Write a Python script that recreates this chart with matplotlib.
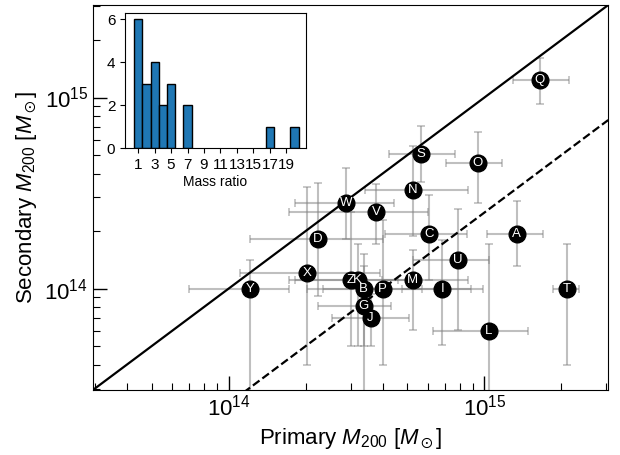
import numpy as np
import matplotlib
matplotlib.use("Agg")
import matplotlib.pyplot as plt

plt.rcParams['font.family'] = ['Liberation Sans', 'DejaVu Sans']
plt.rcParams['mathtext.fontset'] = 'custom'
plt.rcParams['mathtext.rm'] = 'Liberation Sans'
plt.rcParams['mathtext.it'] = 'Liberation Sans:italic'
plt.rcParams['mathtext.default'] = 'regular'

# masses in units of 1e14 Msun
labels = ['Q', 'S', 'O', 'N', 'W', 'V', 'D', 'C', 'A', 'U', 'X',
          'Z', 'K', 'B', 'P', 'M', 'I', 'T', 'L', 'Y', 'G', 'J']
m1     = [16.5, 5.67, 9.44, 5.26, 2.87, 3.78, 2.24, 6.08, 13.4, 7.89, 2.03,
          3.0, 3.2, 3.37, 4.0, 5.25, 6.84, 21.0, 10.4, 1.21, 3.37, 3.59]
m1_lo  = [12.9, 4.23, 7.11, 3.42, 1.82, 1.73, 1.21, 4.09, 10.2, 5.26, 1.11,
          1.73, 1.81, 2.03, 2.34, 3.97, 4.76, 18.6, 6.3, 0.70, 2.24, 2.54]
m1_hi  = [21.4, 7.67, 11.7, 8.63, 4.43, 6.0, 4.0, 8.57, 16.9, 10.4, 3.9,
          5.4, 4.6, 5.7, 8.9, 8.63, 9.9, 23.5, 14.8, 1.72, 4.3, 5.06]
m2     = [12.3, 5.09, 4.53, 3.30, 2.81, 2.52, 1.82, 1.92, 1.92, 1.41, 1.21,
          1.11, 1.11, 1.0, 1.0, 1.11, 1.0, 1.0, 0.60, 1.0, 0.81, 0.70]
m2_lo  = [9.3, 3.62, 2.81, 1.89, 1.82, 1.71, 0.91, 1.11, 1.31, 0.61, 0.40,
          0.50, 0.50, 0.50, 0.40, 0.61, 0.51, 0.40, 0.2, 0.2, 0.2, 0.50]
m2_hi  = [16.2, 7.11, 6.59, 5.6, 4.30, 3.54, 3.59, 3.1, 2.89, 2.6, 3.39,
          2.52, 1.72, 1.51, 2.3, 1.6, 1.80, 1.71, 1.71, 1.41, 1.31, 0.94]

# inset histogram
ratio_bins = [1, 2, 3, 4, 5, 7, 17, 20]
ratio_counts = [6, 3, 4, 2, 3, 2, 1, 1]

scale = 1e14
x = np.array(m1) * scale
y = np.array(m2) * scale
xerr = [x - np.array(m1_lo) * scale, np.array(m1_hi) * scale - x]
yerr = [y - np.array(m2_lo) * scale, np.array(m2_hi) * scale - y]

fig = plt.figure(figsize=(6.2, 4.55), dpi=100)
ax = fig.add_axes([0.150, 0.143, 0.831, 0.846])
ax.set_xscale('log')
ax.set_yscale('log')
lims = (2.95e13, 3.05e15)
ax.set_xlim(lims)
ax.set_ylim(lims)

ax.errorbar(x, y, xerr=xerr, yerr=yerr, fmt='none', ecolor='gray',
            alpha=0.5, elinewidth=1.5, capsize=3, capthick=1.2, zorder=1)
line = np.array(lims)
ax.plot(line, line, 'k-', lw=1.6, zorder=2)
ax.plot(line, line / 4, 'k--', lw=1.6, zorder=2)
ax.plot(x, y, 'o', color='black', ms=12, zorder=3)
for lab, xi, yi in zip(labels, x, y):
    ax.text(xi, yi, lab, color='white', ha='center', va='center',
            fontsize=9.5, zorder=4)

ax.tick_params(which='both', direction='in', labelsize=16)
ax.tick_params(which='major', length=10, width=1)
ax.tick_params(which='minor', length=5, width=0.8)
ax.set_xlabel(r'Primary $\mathit{M}_{200}$ [$\mathit{M}_\odot$]', fontsize=16)
ax.set_ylabel(r'Secondary $\mathit{M}_{200}$ [$\mathit{M}_\odot$]', fontsize=16)

ins = fig.add_axes([0.2016, 0.6747, 0.292, 0.2967])
ins.bar(ratio_bins, ratio_counts, width=1, color='#1f77b4', edgecolor='black', lw=1)
ins.set_xlim(-0.6, 21.4)
ins.set_xticks(range(1, 20, 2))
ins.set_yticks([0, 2, 4, 6])
ins.tick_params(labelsize=11)
ins.set_xlabel('Mass ratio', fontsize=10, labelpad=2)

fig.savefig('out.png', dpi=100)
